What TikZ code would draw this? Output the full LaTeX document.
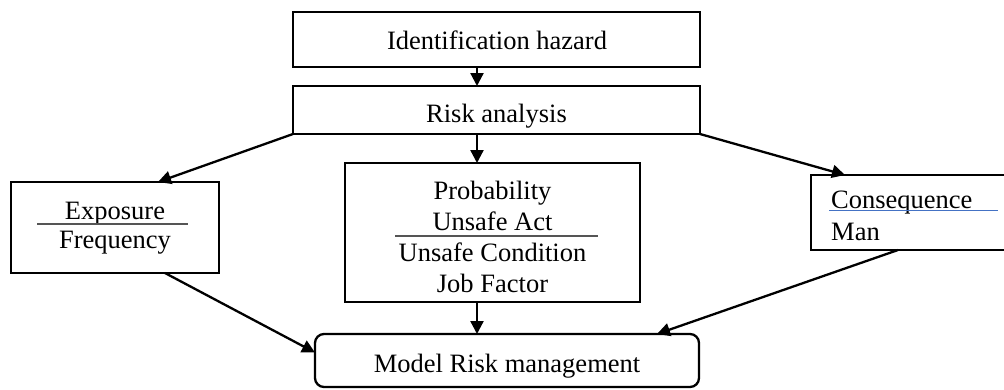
\documentclass[tikz,border=0pt]{standalone}
\usepackage{fontspec}
\setmainfont{Liberation Serif}
\usetikzlibrary{arrows.meta,calc}
\definecolor{linkblue}{RGB}{68,114,196}
\definecolor{rulegray}{RGB}{85,85,85}
\begin{document}
\begin{tikzpicture}[x=1pt,y=-1pt,
  box/.style={draw,line width=2.3pt,inner sep=0pt,outer sep=0pt},
  lbl/.style={inner sep=0pt,anchor=base,font=\fontsize{26.5}{30}\selectfont},
  lbll/.style={lbl,anchor=base west},
  arr/.style={line width=2.3pt,-{Triangle[length=13pt,width=13pt]}},
  divider/.style={draw=rulegray,line width=1.5pt}]
\useasboundingbox (0,0) rectangle (1004,389);

% boxes
\node[box,minimum width=407pt,minimum height=55pt] (ident) at (496.5,39.5) {};
\node[box,minimum width=407pt,minimum height=48pt] (risk) at (496.5,110) {};
\node[box,minimum width=208pt,minimum height=91pt] (exp) at (115,227.5) {};
\node[box,minimum width=295pt,minimum height=139pt] (prob) at (492.5,232.5) {};
\node[box,minimum width=199pt,minimum height=75pt] (cons) at (910.5,212.5) {};
\node[box,rounded corners=9pt,minimum width=384pt,minimum height=53pt] (model) at (507,360.5) {};
\coordinate (axis) at (477,0);

% texts
\node[lbl] (t-ident) at (497,49) {Identification hazard};
\node[lbl] (t-risk) at (496.5,122) {Risk analysis};
\node[lbl] (t-exp) at (115,219) {Exposure};
\node[lbl] (t-freq) at (115,248) {Frequency};
\node[lbl] (t-prob) at (492.5,199) {Probability};
\node[lbl] (t-act) at (492.5,230) {Unsafe Act};
\node[lbl] (t-cond) at (492.5,261) {Unsafe Condition};
\node[lbl] (t-job) at (492.5,292) {Job Factor};
\node[lbll] (t-cons) at (831,208) {Consequence};
\node[lbll] (t-man) at (831,240) {Man};
\node[lbl] (t-model) at (507,372) {Model Risk management};

% dividers and underline
\draw[divider] (37,224) -- (188,224);
\draw[divider] (395,236) -- (598,236);
\draw[linkblue,line width=1pt] (829,210) -- (998,210);

% connectors
\draw[arr] (ident.south -| axis) -- (risk.north -| axis);
\draw[arr] (risk.south west) -- ($(exp.north west)+(147,0)$);
\draw[arr] (risk.south -| axis) -- (prob.north -| axis);
\draw[arr] (risk.south east) -- ($(cons.north west)+(34,0)$);
\draw[arr] ($(exp.south west)+(154,0)$) -- ($(model.west)+(0,-8)$);
\draw[arr] (prob.south -| axis) -- (model.north -| axis);
\draw[arr] ($(cons.south west)+(87,0)$) -- ($(model.north east)+(-42,0)$);
\end{tikzpicture}
\end{document}
